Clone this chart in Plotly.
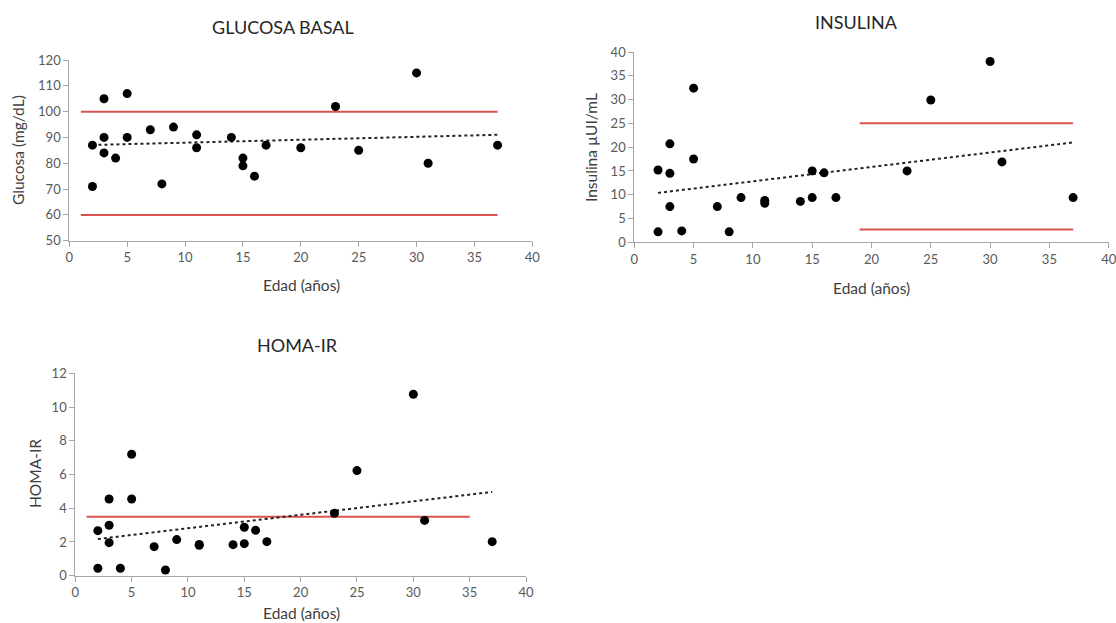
import numpy as np
import plotly.graph_objects as go

# full page 1116x623; body margin removed via post_script
OFF = 0
W, H = 1116, 623

# ---------------- data ----------------
edad_glu = [2, 2, 3, 3, 3, 4, 5, 5, 7, 8, 9, 11, 11, 14, 15, 15, 16, 17, 20, 23, 25, 30, 31, 37]
glucosa = [87, 71, 105, 90, 84, 82, 107, 90, 93, 72, 94, 91, 86, 90, 82, 79, 75, 87, 86, 102, 85, 115, 80, 87]

edad_ins = [2, 2, 3, 3, 3, 4, 5, 5, 7, 8, 9, 11, 11, 14, 15, 15, 16, 17, 23, 25, 30, 31, 37]
insulina = [15.2, 2.2, 20.7, 14.5, 7.5, 2.4, 32.4, 17.5, 7.5, 2.2, 9.4, 8.8, 8.2, 8.6, 15.0, 9.4, 14.6, 9.4, 15.0, 29.9, 38.0, 16.9, 9.4]

edad_homa = [2, 2, 3, 3, 3, 4, 5, 5, 7, 8, 9, 11, 11, 14, 15, 15, 16, 17, 23, 25, 30, 31, 37]
homa = [2.67, 0.44, 4.55, 2.99, 1.96, 0.44, 7.2, 4.55, 1.72, 0.34, 2.14, 1.80, 1.85, 1.84, 2.87, 1.90, 2.69, 2.02, 3.70, 6.23, 10.76, 3.28, 2.02]

# reference limits: (x start, x end, y)
glu_limits = [(1, 37, 100), (1, 37, 60)]
ins_limits = [(19, 37, 25), (19, 37, 2.7)]
homa_limits = [(1, 35, 3.5)]

x_ticks = [0, 5, 10, 15, 20, 25, 30, 35, 40]

# ---------------- layout helpers (page pixel coords) ----------------
def xd(a, b):
    return [(a - OFF) / W, (b - OFF) / W]

def yd(top, bottom):
    return [1 - (bottom - OFF) / H, 1 - (top - OFF) / H]

FONT = "Lato, 'Open Sans', sans-serif"
TICK_COLOR = "#595959"
AXIS_COLOR = "#a6a6a6"
RED = "#d9534f"

fig = go.Figure()

panels = [
    dict(x=edad_glu, y=glucosa, lim=glu_limits, ax="x", ay="y",
         xdom=xd(69.3, 532.3), ydom=yd(60, 240.7), yr=[50, 120], dt=10),
    dict(x=edad_ins, y=insulina, lim=ins_limits, ax="x2", ay="y2",
         xdom=xd(634.3, 1108.7), ydom=yd(52, 242.3), yr=[0, 40], dt=5),
    dict(x=edad_homa, y=homa, lim=homa_limits, ax="x3", ay="y3",
         xdom=xd(75.3, 526), ydom=yd(373.3, 575.7), yr=[0, 12], dt=2),
]

layout_axes = {}
for i, p in enumerate(panels):
    for (x0, x1, yv) in p["lim"]:
        fig.add_trace(go.Scatter(x=[x0, x1], y=[yv, yv], mode="lines",
                                 line=dict(color=RED, width=2),
                                 xaxis=p["ax"], yaxis=p["ay"], showlegend=False,
                                 hoverinfo="skip"))
    xs = np.array(p["x"], dtype=float)
    ys = np.array(p["y"], dtype=float)
    m, c = np.polyfit(xs, ys, 1)
    xt = np.array([xs.min(), xs.max()])
    fig.add_trace(go.Scatter(x=xt, y=m * xt + c, mode="lines",
                             line=dict(color="#222222", width=2, dash="dot"),
                             xaxis=p["ax"], yaxis=p["ay"], showlegend=False,
                             hoverinfo="skip"))
    fig.add_trace(go.Scatter(x=p["x"], y=p["y"], mode="markers",
                             marker=dict(color="black", size=9),
                             xaxis=p["ax"], yaxis=p["ay"], showlegend=False))
    sfx = "" if i == 0 else str(i + 1)
    layout_axes["xaxis" + sfx] = dict(
        domain=p["xdom"], range=[0, 40], tickvals=x_ticks, anchor="y" + sfx,
        showgrid=False, zeroline=False, showline=True, linecolor=AXIS_COLOR,
        linewidth=1, ticks="outside", ticklen=5, tickcolor=AXIS_COLOR,
        tickfont=dict(family=FONT, size=13, color=TICK_COLOR), fixedrange=True,
        automargin=False, ticklabeloverflow="allow")
    yt = list(np.arange(p["yr"][0], p["yr"][1] + p["dt"] / 2, p["dt"]))
    layout_axes["yaxis" + sfx] = dict(
        domain=p["ydom"], range=p["yr"], tickvals=yt, anchor="x" + sfx,
        showgrid=False, zeroline=False, showline=True, linecolor=AXIS_COLOR,
        linewidth=1, ticks="outside", ticklen=5, tickcolor=AXIS_COLOR,
        tickfont=dict(family=FONT, size=13, color=TICK_COLOR), fixedrange=True,
        automargin=False)

annos = []
def txt(text, x, y, size, angle=0, color="#262626"):
    annos.append(dict(text=text, x=(x - OFF) / W, y=1 - (y - OFF) / H,
                      xref="paper", yref="paper",
                      showarrow=False, textangle=angle, xanchor="center", yanchor="middle",
                      font=dict(family=FONT, size=size, color=color)))

# titles
txt("GLUCOSA BASAL", 283, 27, 18)
txt("INSULINA", 856, 22, 18)
txt("HOMA-IR", 297, 345, 18)
# x-axis titles
txt("Edad (años)", 301, 285, 15.5, color="#404040")
txt("Edad (años)", 871, 288, 15.5, color="#404040")
txt("Edad (años)", 301, 613, 15.5, color="#404040")
# y-axis titles
txt("Glucosa (mg/dL)", 18, 150, 15.5, angle=-90, color="#404040")
txt("Insulina µUI/mL", 591, 148, 15.5, angle=-90, color="#404040")
txt("HOMA-IR", 35, 474, 15.5, angle=-90, color="#404040")

fig.update_layout(width=W, height=H,
                  margin=dict(l=0, r=0, t=0, b=0, pad=0, autoexpand=False),
                  paper_bgcolor="white", plot_bgcolor="white",
                  annotations=annos, showlegend=False, **layout_axes)

fig.write_html("out.html",
               config={"displayModeBar": False},
               post_script="document.body.style.margin='0';document.body.style.overflow='hidden';")
